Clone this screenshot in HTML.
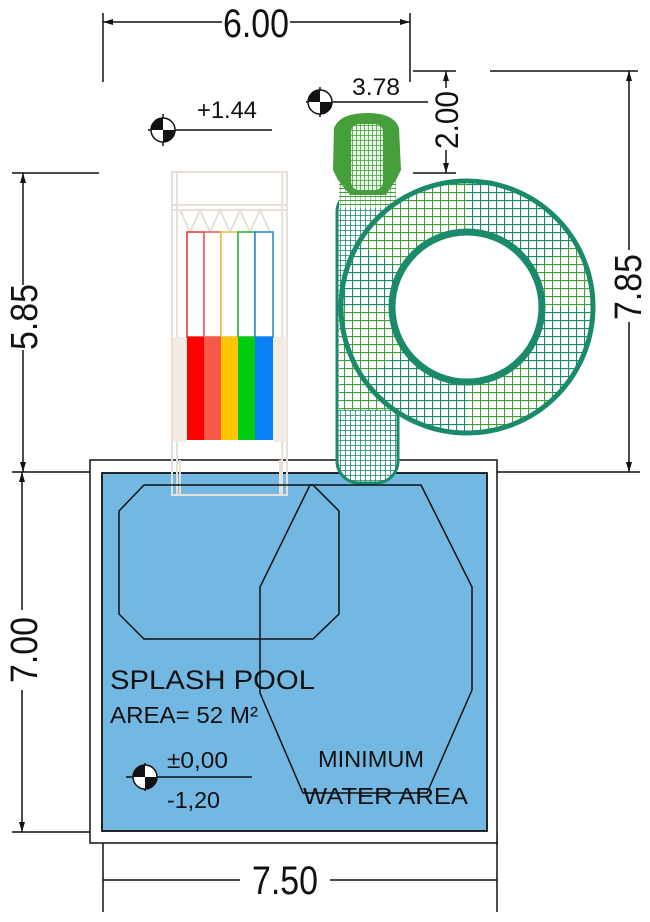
<!DOCTYPE html>
<html><head><meta charset="utf-8"><style>
html,body{margin:0;padding:0;background:#fff;width:650px;height:922px;overflow:hidden}
text{font-family:"Liberation Sans",sans-serif;fill:#111}
</style></head><body>
<svg width="650" height="922" viewBox="0 0 650 922" xmlns="http://www.w3.org/2000/svg">
<defs>
<pattern id="g1" width="8" height="8" patternUnits="userSpaceOnUse"><rect width="8" height="8" fill="#fff"/><path d="M0 0H8M0 0V8" stroke="#1b8a6b" stroke-width="2.2"/></pattern>
<pattern id="g2" width="8" height="8" patternUnits="userSpaceOnUse"><rect width="8" height="8" fill="#fff"/><path d="M0 0H8M0 0V8" stroke="#45a03c" stroke-width="2.2"/></pattern>
<pattern id="g4" width="5" height="5" patternUnits="userSpaceOnUse"><rect width="5" height="5" fill="#fff"/><path d="M0 0H5M0 0V5" stroke="#1b8a6b" stroke-width="1.6"/></pattern>
<pattern id="g3" width="4" height="5" patternUnits="userSpaceOnUse"><rect width="4" height="5" fill="#e8f3e8"/><path d="M0 0H4M0 0V5" stroke="#45a03c" stroke-width="1.6"/></pattern>
<pattern id="g5" width="5" height="4" patternUnits="userSpaceOnUse"><rect width="5" height="4" fill="#fff"/><path d="M0 0H5" stroke="#45a03c" stroke-width="2"/><path d="M0 0V4" stroke="#45a03c" stroke-width="1"/></pattern>
</defs>
<g stroke="#111" stroke-width="1.5" fill="none">
<path d="M103 13V82M410 13V82M103 22H222M290 22H410"/>
<path d="M490 71H638M629 71V250M629 322V472"/>
<path d="M413 71H456M413 173H456M446 71V88M446 150V173"/>
<path d="M12 173H99M23 173V285M23 350V472"/>
<path d="M12 472H640"/>
<path d="M22 472V610M22 690V832M12 832H100"/>
<path d="M103 836V912M497 836V912M103 880H240M330 880H497"/>
</g>
<g fill="#111" stroke="none">
<path d="M103 22l10-3v6zM410 22l-10-3v6zM629 71l-3 10h6zM629 472l-3-10h6zM446 71l-3 10h6zM446 173l-3-10h6zM23 173l-3 10h6zM23 472l-3-10h6zM22 472l-3 10h6zM22 832l-3-10h6z"/>
</g>
<text x="256" y="37" font-size="40" text-anchor="middle" textLength="66" lengthAdjust="spacingAndGlyphs">6.00</text>
<text x="285" y="894" font-size="40" text-anchor="middle" textLength="66" lengthAdjust="spacingAndGlyphs">7.50</text>
<text transform="translate(641,287) rotate(-90)" font-size="38" text-anchor="middle" textLength="66" lengthAdjust="spacingAndGlyphs">7.85</text>
<text transform="translate(37,317) rotate(-90)" font-size="38" text-anchor="middle" textLength="66" lengthAdjust="spacingAndGlyphs">5.85</text>
<text transform="translate(37,650) rotate(-90)" font-size="38" text-anchor="middle" textLength="66" lengthAdjust="spacingAndGlyphs">7.00</text>
<text transform="translate(458,120) rotate(-90)" font-size="32" text-anchor="middle" textLength="58" lengthAdjust="spacingAndGlyphs">2.00</text>
<g stroke="#111" stroke-width="1.5">
<path d="M148 130H272M163 114V146M306 102H428M320 87V117"/>
<circle cx="163" cy="130" r="12" fill="#fff"/>
<circle cx="320" cy="102" r="12" fill="#fff"/>
</g>
<path d="M163 118A12 12 0 0 0 151 130H163ZM163 142A12 12 0 0 0 175 130H163Z" fill="#111"/>
<path d="M320 90A12 12 0 0 0 308 102H320ZM320 114A12 12 0 0 0 332 102H320Z" fill="#111"/>
<text x="197" y="118" font-size="24" textLength="60" lengthAdjust="spacingAndGlyphs">+1.44</text>
<text x="352" y="95" font-size="24" textLength="48" lengthAdjust="spacingAndGlyphs">3.78</text>
<rect x="90" y="460" width="407" height="383" fill="#fff" stroke="#111" stroke-width="1.5"/>
<rect x="102" y="473" width="385" height="358" fill="#72b8e2" stroke="#111" stroke-width="1.8"/>
<g fill="none" stroke="#e6e0d8" stroke-width="2">
<rect x="172" y="172" width="115" height="323"/>
<path d="M172 205H287M177 172V495M282 172V495M172 210H287M180 210l10 22 10-22 10 22 10-22 10 22 10-22 10 22 10-22 10 22"/>
<path d="M180 460V495H280V460"/>
</g>
<rect x="173" y="337" width="14" height="105" fill="#f2ece4"/>
<rect x="273" y="337" width="14" height="105" fill="#f2ece4"/>
<rect x="187" y="232" width="17" height="105" fill="#fff" stroke="#e03030" stroke-width="1.5"/>
<rect x="204" y="232" width="17" height="105" fill="#fff" stroke="#e8584a" stroke-width="1.5"/>
<rect x="221" y="232" width="17" height="105" fill="#fff" stroke="#e8c040" stroke-width="1.5"/>
<rect x="238" y="232" width="17" height="105" fill="#fff" stroke="#20b030" stroke-width="1.5"/>
<rect x="255" y="232" width="18" height="105" fill="#fff" stroke="#2080e0" stroke-width="1.5"/>
<rect x="187" y="337" width="17" height="103" fill="#ff0000"/>
<rect x="204" y="337" width="17" height="103" fill="#f65a44"/>
<rect x="221" y="337" width="17" height="103" fill="#ffc600"/>
<rect x="238" y="337" width="17" height="103" fill="#00cc10"/>
<rect x="255" y="337" width="18" height="103" fill="#0a80f5"/>
<!-- tube -->
<rect x="337" y="190" width="61" height="293" rx="22" fill="url(#g4)" stroke="#1b8a6b" stroke-width="3"/>
<rect x="339" y="310" width="57" height="100" fill="url(#g2)"/>
<rect x="339" y="180" width="57" height="28" fill="url(#g5)"/>
<path d="M338 180 L333 170 L334 128 Q340 113 367 113 Q394 113 399 128 L401 170 L396 180 L386 195 H350 Z" fill="#45a03c"/>
<rect x="351" y="124" width="32" height="66" rx="8" fill="url(#g3)"/>
<!-- torus -->
<circle cx="467" cy="307" r="101" fill="none" stroke="url(#g1)" stroke-width="52"/>
<g fill="none" stroke-width="52">
<path d="M467 206A101 101 0 0 0 380 257" stroke="url(#g2)"/>
<path d="M554 256A101 101 0 0 1 568 307" stroke="url(#g2)"/>
<path d="M366 307A101 101 0 0 0 384 365" stroke="url(#g2)"/>
<path d="M467 408A101 101 0 0 0 538 378" stroke="url(#g2)"/>
</g>
<circle cx="467" cy="307" r="126" fill="none" stroke="#1b8a6b" stroke-width="5"/>
<circle cx="467" cy="307" r="75" fill="#fff" stroke="#1b8a6b" stroke-width="7"/>
<g fill="none" stroke="#111" stroke-width="1.5">
<polygon points="144,485 313,485 339,511 339,614 313,639 144,639 119,614 119,511"/>
<polygon points="310,485 421,485 472,587 472,690 427,793 303,793 260,693 260,587"/>
<path d="M126 777H252"/>
<path d="M145 763V791"/>
</g>
<circle cx="145" cy="777" r="12" fill="#fff" stroke="#111" stroke-width="1.5"/>
<path d="M145 765A12 12 0 0 0 133 777H145ZM145 789A12 12 0 0 0 157 777H145Z" fill="#111"/>
<text x="110" y="689" font-size="27" textLength="205" lengthAdjust="spacingAndGlyphs">SPLASH POOL</text>
<text x="110" y="723" font-size="23" textLength="148" lengthAdjust="spacingAndGlyphs">AREA= 52 M²</text>
<text x="167" y="768" font-size="23" textLength="61" lengthAdjust="spacingAndGlyphs">±0,00</text>
<text x="167" y="808" font-size="23" textLength="53" lengthAdjust="spacingAndGlyphs">-1,20</text>
<text x="318" y="767" font-size="23" textLength="106" lengthAdjust="spacingAndGlyphs">MINIMUM</text>
<text x="303" y="804" font-size="23" textLength="165" lengthAdjust="spacingAndGlyphs">WATER  AREA</text>
</svg>
</body></html>
